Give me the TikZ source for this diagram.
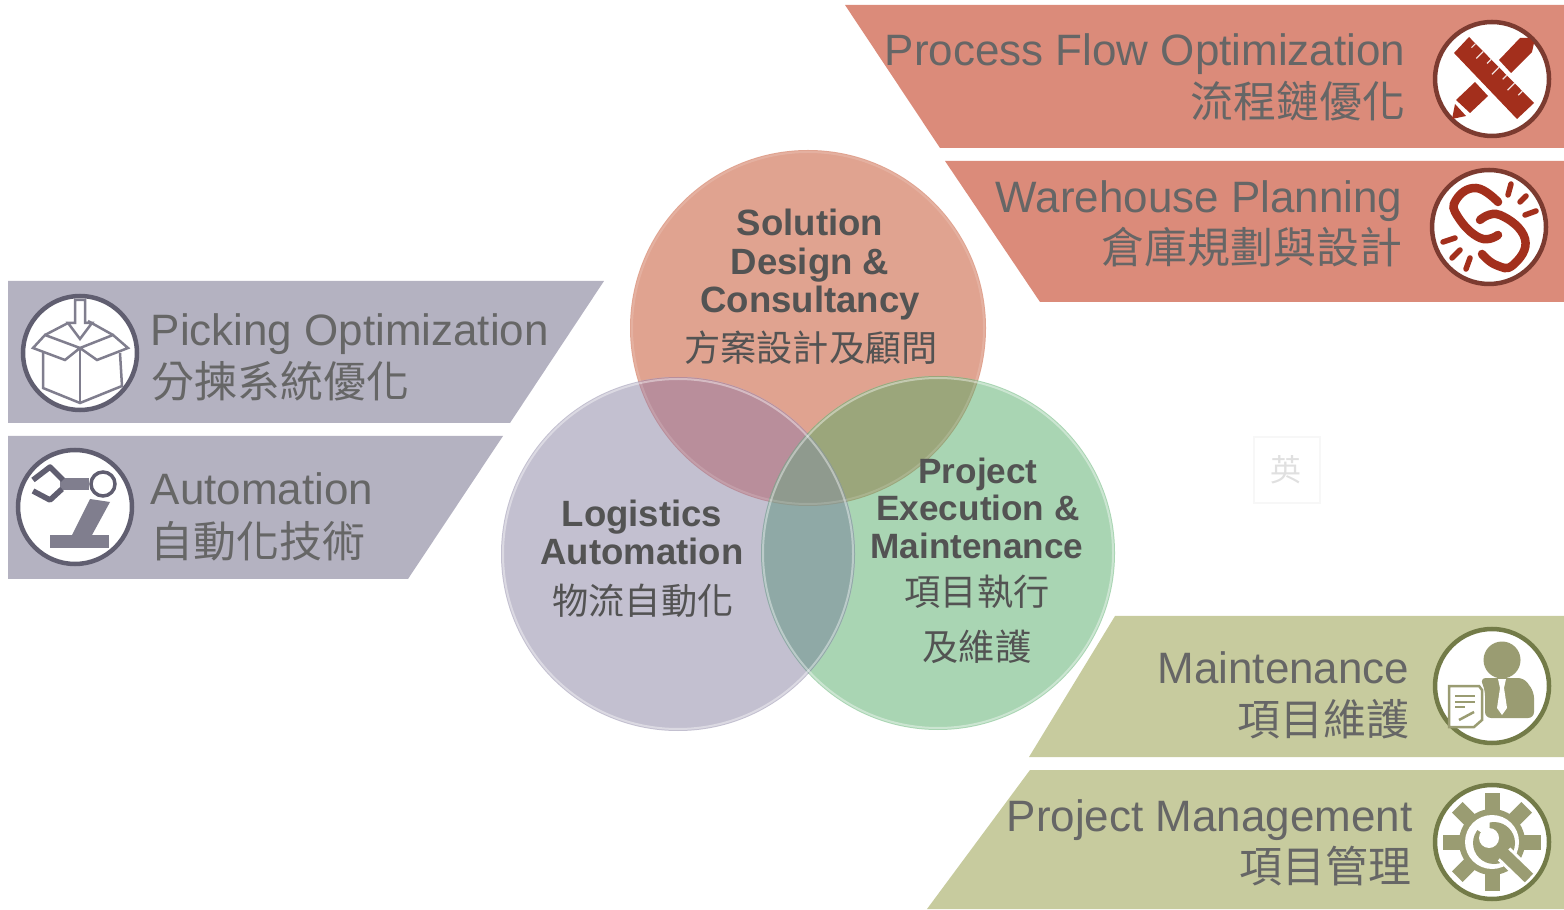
\documentclass[tikz,border=0pt]{standalone}
\usepackage{fontspec}
\setmainfont{Liberation Sans}
\newfontfamily\cjk{Noto Sans CJK TC}
\tikzset{
  entext/.style={anchor=base east,inner sep=0pt,text=textgrey,font=\fontsize{12.5pt}{14pt}\selectfont},
  zhtext/.style={anchor=east,inner sep=0pt,text=textgrey,font=\cjk\fontsize{12.2pt}{14pt}\selectfont},
  entextleft/.style={entext,anchor=base west},
  zhtextleft/.style={zhtext,anchor=west},
  venntext/.style={anchor=base,inner sep=0pt,text=venngrey,font=\bfseries\fontsize{10.4pt}{12pt}\selectfont},
  venntextsmall/.style={venntext,font=\bfseries\fontsize{10pt}{12pt}\selectfont},
  vennzh/.style={anchor=center,inner sep=0pt,text=venngrey,font=\cjk\fontsize{10.3pt}{12pt}\selectfont},
  iconring/.style={fill=white,line width=0.045cm},
}
\begin{document}
\begin{tikzpicture}[x=0.01cm,y=-0.01cm]
\useasboundingbox (0,0) rectangle (1564,910);
\definecolor{textgrey}{HTML}{666666}%
\definecolor{venngrey}{HTML}{535353}%

% Changing color of the bands
\definecolor{bandred}{HTML}{DB8B7A}%
\definecolor{bandgrey}{HTML}{B4B2C1}%
\definecolor{bandolive}{HTML}{C7CB9E}%

% Drawing red bands
\fill [bandred] (845,5) -- (1564,5) -- (1564,148) -- (940,148) -- cycle;%
\fill [bandred] (945,161) -- (1564,161) -- (1564,302) -- (1040,302) -- cycle;%

% Drawing grey bands
\fill [bandgrey] (8,281) -- (604,281) -- (510,423) -- (8,423) -- cycle;%
\fill [bandgrey] (8,436) -- (503,436) -- (408,579) -- (8,579) -- cycle;%

% Drawing olive bands
\fill [bandolive] (1115,616) -- (1564,616) -- (1564,757) -- (1029,757) -- cycle;%
\fill [bandolive] (1030,770) -- (1564,770) -- (1564,909) -- (927,909) -- cycle;%

% Changing color of the circles
\definecolor{vennred}{HTML}{E0A390}%
\definecolor{venngray}{HTML}{C3C0D0}%
\definecolor{venngreen}{HTML}{A9D5B3}%
\definecolor{overredgray}{HTML}{B98E9B}%
\definecolor{overredgreen}{HTML}{9BA67B}%
\definecolor{overgraygreen}{HTML}{8FA9A6}%
\definecolor{overall}{HTML}{8F9A8E}%

% Drawing the three circles
\fill [vennred] (808,328) circle (178);%
\fill [venngreen] (938,553) circle (177);%
\fill [venngray] (678,554) circle (177);%

% Drawing red and grey overlap
\begin{scope}
\clip (808,328) circle (178);%
\fill [overredgray] (678,554) circle (177);%
\fill [overredgreen] (938,553) circle (177);%
\clip (678,554) circle (177);%
\fill [overall] (938,553) circle (177);%
\end{scope}

% Drawing grey and green overlap
\begin{scope}
\clip (678,554) circle (177);%
\clip (938,553) circle (177);%
\fill [overgraygreen] (761,328) rectangle (1116,800);%
\clip (808,328) circle (178);%
\fill [overall] (761,328) rectangle (1116,800);%
\end{scope}

% Drawing pale rims
\draw [white,opacity=0.4,line width=0.02cm] (678,554) circle (175);%
\draw [white,opacity=0.4,line width=0.02cm] (938,553) circle (175);%
\draw [white,opacity=0.15,line width=0.02cm] (808,328) circle (176);%

% Marking circle labels
\draw (810,236) node (solutiona) [venntext] {Solution};%
\draw (810,275) node (solutionb) [venntext] {Design \&};%
\draw (810,313) node (solutionc) [venntext] {Consultancy};%
\draw (811,348) node (solutionzh) [vennzh] {方案設計及顧問};%
\draw (642,527) node (logisticsa) [venntext] {Logistics};%
\draw (642,565) node (logisticsb) [venntext] {Automation};%
\draw (643,601) node (logisticszh) [vennzh] {物流自動化};%
\draw (978,484) node (projecta) [venntextsmall] {Project};%
\draw (978,521) node (projectb) [venntextsmall] {Execution \&};%
\draw (977,558) node (projectc) [venntextsmall] {Maintenance};%
\draw (977,592) node (projectzha) [vennzh] {項目執行};%
\draw (977,647) node (projectzhb) [vennzh] {及維護};%

% Marking band labels
\draw (1406,66) node (flowen) [entext] {Process Flow Optimization};%
\draw (1406,101) node (flowzh) [zhtext] {流程鏈優化};%
\draw (1403,213) node (wareen) [entext] {Warehouse Planning};%
\draw (1403,247) node (warezh) [zhtext] {倉庫規劃與設計};%
\draw (150,346) node (pickingen) [entextleft] {Picking Optimization};%
\draw (151,381) node (pickingzh) [zhtextleft] {分揀系統優化};%
\draw (150,505) node (autoen) [entextleft] {Automation};%
\draw (150,541) node (autozh) [zhtextleft] {自動化技術};%
\draw (1410,683) node (mainten) [entext] {Maintenance};%
\draw (1410,719) node (maintzh) [zhtext] {項目維護};%
\draw (1413,831) node (manageen) [entext] {Project Management};%
\draw (1412,866) node (managezh) [zhtext] {項目管理};%

% Marking the pale box
\draw [color=black!3,line width=0.02cm] (1254,437) rectangle (1320,503);%
\draw (1286,470) node (pale) [inner sep=0pt,text=black!12,font=\cjk\fontsize{8.8pt}{10pt}\selectfont] {英};%

% Changing color of the red icons
\definecolor{ringred}{HTML}{7C3B30}%
\definecolor{iconred}{HTML}{A32F1C}%

% Drawing pencil and ruler icon
\begin{scope}[shift={(1492,79)}]
\draw [iconring,draw=ringred] (0,0) circle (57);%
\fill [iconred] (7,-19) -- (19,-6) -- (40,-27) -- (42,-36) -- (37,-41) -- (28,-41) -- cycle;%
\fill [iconred] (-17,3) -- (-4,17) -- (-22,34) -- (-36,21) -- cycle;%
\fill [iconred] (-37,25) -- (-26,37) -- (-40,40) -- cycle;%
\fill [iconred] (-23,-42) -- (-38,-26) -- (25,40) -- (42,24) -- cycle;%
\foreach \t/\l in {0.10/4,0.22/7,0.34/4,0.46/7,0.58/4,0.70/7,0.82/4}
  \draw [white!85!iconred,line width=0.012cm] ({-23+65*\t},{-42+66*\t}) -- ++({-\l},{\l});%
\end{scope}

% Drawing chain icon
\begin{scope}[shift={(1489,227)}]
\draw [iconring,draw=ringred] (0,0) circle (57);%
\draw [iconred,line width=0.085cm,line cap=round] plot [smooth,tension=0.8] coordinates {(9,-25) (-13,-39) (-33,-27) (-31,-10) (-9,11) (9,8)};%
\draw [iconred,line width=0.085cm,line cap=round] plot [smooth,tension=0.8] coordinates {(-9,-7) (11,-12) (36,12) (24,38) (7,38) (-7,27)};%
\draw [iconred,line width=0.055cm,line cap=round] (22,-43) -- (19,-32);%
\draw [iconred,line width=0.055cm,line cap=round] (37,-31) -- (31,-25);%
\draw [iconred,line width=0.055cm,line cap=round] (47,-16) -- (36,-12);%
\draw [iconred,line width=0.055cm,line cap=round] (-34,11) -- (-46,15);%
\draw [iconred,line width=0.055cm,line cap=round] (-29,23) -- (-37,31);%
\draw [iconred,line width=0.055cm,line cap=round] (-19,31) -- (-23,42);%
\end{scope}

% Changing color of the grey icons
\definecolor{ringgrey}{HTML}{605E70}%
\definecolor{icongrey}{HTML}{807E8E}%

% Drawing box icon
\begin{scope}[shift={(80,353)}]
\draw [iconring,draw=ringgrey] (0,0) circle (57);%
\draw [icongrey,line width=0.025cm,fill=white] (-5,-53) -- (5,-53) -- (5,-30) -- (12,-30) -- (0,-14) -- (-12,-30) -- (-5,-30) -- cycle;%
\draw [icongrey,line width=0.025cm] (-35,-18) -- (-12,-30);%
\draw [icongrey,line width=0.025cm] (33,-18) -- (8,-32);%
\draw [icongrey,line width=0.025cm] (-37,0) -- (-37,35) -- (0,50) -- (42,33) -- (40,0);%
\draw [icongrey,line width=0.025cm] (0,-5) -- (0,50);%
\draw [icongrey,line width=0.025cm] (0,-5) -- (-35,-18) -- (-47,-5) -- (-15,7) -- cycle;%
\draw [icongrey,line width=0.025cm] (0,-5) -- (33,-18) -- (48,-5) -- (17,7) -- cycle;%
\end{scope}

% Drawing robot icon
\begin{scope}[shift={(75,507)}]
\draw [iconring,draw=ringgrey] (0,0) circle (57);%
\fill [icongrey] (-25,28) rectangle (34,41);%
\fill [icongrey] (15,-8) -- (35,-5) -- (17,28) -- (-3,28) -- cycle;%
\fill [icongrey] (-15,-29) rectangle (14,-17);%
\draw [ringgrey,line width=0.035cm,fill=white] (28,-23) circle (12);%
\draw [ringgrey,line width=0.055cm,line join=round] (-42,-27) -- (-25,-40) -- (-12,-27);%
\draw [ringgrey,line width=0.055cm,line join=round] (-42,-16) -- (-25,-7) -- (-13,-18);%
\end{scope}

% Changing color of the olive icons
\definecolor{ringolive}{HTML}{737B48}%
\definecolor{iconolive}{HTML}{9A9C72}%

% Drawing person icon
\begin{scope}[shift={(1492,686)}]
\draw [iconring,draw=ringolive] (0,0) circle (57);%
\fill [iconolive] (10,-26) circle (18.5);%
\fill [iconolive,rounded corners=0.06cm] (-12,-8) -- (32,-8) -- (42,6) -- (42,32) -- (-7,32) -- (-7,4) -- cycle;%
\fill [white] (6,-7) -- (14,-7) -- (12,2) -- (15,22) -- (10,29) -- (5,22) -- (8,2) -- cycle;%
\draw [iconolive,line width=0.025cm,fill=white] (-43,0) -- (-13,0) -- (-10,4) -- (-10,34) -- (-18,41) -- (-43,41) -- cycle;%
\draw [iconolive,line width=0.025cm] (-37,10) -- (-17,10);%
\draw [iconolive,line width=0.025cm] (-37,16) -- (-17,16);%
\draw [iconolive,line width=0.025cm] (-37,21) -- (-27,21);%
\draw [iconolive,line width=0.025cm] (-33,34) -- (-18,26);%
\end{scope}

% Drawing gear icon
\begin{scope}[shift={(1492,842)}]
\draw [iconring,draw=ringolive] (0,0) circle (57);%
\foreach \a in {0,45,...,315}
  \fill [iconolive,rotate=\a] (-7.5,-49) rectangle (7.5,-26);%
\fill [iconolive] (0,0) circle (33);%
\fill [white] (0,0) circle (27);%
\fill [iconolive] (2,1) circle (21);%
\fill [white] (-3,-4) circle (10);%
\fill [white] (-3,-4) -- (-20,-16) -- (-2,-26) -- cycle;%
\draw [white,line width=0.18cm] (12,12) -- (36,35);%
\draw [iconolive,line width=0.12cm] (8,8) -- (37,36);%
\end{scope}
\end{tikzpicture}
\end{document}
